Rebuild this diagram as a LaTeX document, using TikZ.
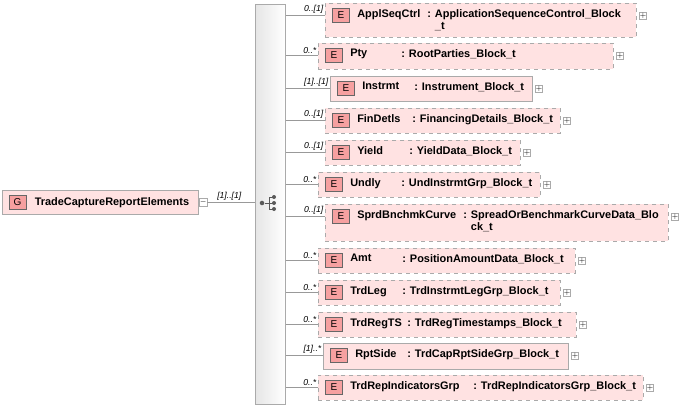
\documentclass[tikz,border=0pt]{standalone}
\usepackage{fontspec}
\setmainfont{Liberation Sans}
\usetikzlibrary{positioning}
\definecolor{boxpink}{RGB}{255,226,226}
\definecolor{badge}{RGB}{246,160,160}
\definecolor{edge}{RGB}{170,170,170}
\tikzset{
  elem/.style={draw=edge, fill=boxpink, anchor=north west, inner sep=0pt},
  badge/.style={draw=gray!80!black, fill=badge, minimum width=13pt, minimum height=10.5pt,
    inner sep=0pt, font=\fontsize{7.5}{8}\selectfont},
  lbl/.style={font=\bfseries\fontsize{8.2}{9.5}\selectfont, anchor=west, inner sep=0pt, align=left},
  mult/.style={font=\itshape\fontsize{6.5}{7}\selectfont, above left, inner sep=1pt},
  expand/.style={draw=edge, fill=white, minimum size=5.5pt, inner sep=0pt},
  conn/.style={draw=gray!80, line width=0.5pt}
}
\begin{document}
\begin{tikzpicture}[x=0.75pt, y=-0.75pt]
\useasboundingbox (0,0) rectangle (682,408);
% sequence bar
\node [draw=edge, left color=gray!20, right color=white, shading angle=90, anchor=north west,
  minimum width=22.5pt, minimum height=300pt, inner sep=0pt] (seq) at (255,4) {};
\node [fill=gray!70!black, circle, inner sep=1.2pt] (dot) at (262,203) {};
\foreach \yy in {197,203,209}
  \fill [gray!70!black] (274,\yy) circle (1.5pt);
\draw [gray!70!black, line width=0.7pt] (dot) -- (269,203) (269,197) -- (269,209)
  (269,197) -- (274,197) (269,209) -- (274,209) (269,203) -- (274,203);

% group
\node [draw=edge, fill=boxpink, anchor=north west, minimum width=147pt, minimum height=18pt,
  inner sep=0pt] (grp) at (2,190) {};
\node [badge, right=5pt of grp.west, anchor=west] (g-badge) {G};
\node [lbl, right=6pt of g-badge] (g-name) {TradeCaptureReportElements};
\node [expand, right=0.5pt of grp.east] (g-exp) {\tiny$-$};
\draw [conn] (g-exp) -- (seq.west |- g-exp) node [mult, pos=0.75] {[1]..[1]};

% elements: index/left/top/right/bottom/name/type/colon x/mult/style
\foreach \i/\l/\t/\r/\b/\nm/\ty/\tx/\m/\st in {
  1/325/3/636/37/ApplSeqCtrl/{: ApplicationSequenceControl\_Block\\\hphantom{: }\_t}/427/0..[1]/dashed,
  2/318/43/613/69/Pty/: RootParties\_Block\_t/401/0..*/dashed,
  3/330/76/532/101/Instrmt/: Instrument\_Block\_t/414/[1]..[1]/solid,
  4/325/108/560/133/FinDetls/: FinancingDetails\_Block\_t/412/0..[1]/dashed,
  5/325/140/520/165/Yield/: YieldData\_Block\_t/409/0..[1]/dashed,
  6/318/172/540/197/Undly/: UndInstrmtGrp\_Block\_t/401/0..*/dashed,
  7/325/204/668/241/SprdBnchmkCurve/{: SpreadOrBenchmarkCurveData\_Blo\\\hphantom{: }ck\_t}/463/0..[1]/dashed,
  8/318/248/575/273/Amt/: PositionAmountData\_Block\_t/402/0..*/dashed,
  9/318/280/560/305/TrdLeg/: TrdInstrmtLegGrp\_Block\_t/402/0..*/dashed,
  10/318/312/576/337/TrdRegTS/: TrdRegTimestamps\_Block\_t/407/0..*/dashed,
  11/323/343/568/369/RptSide/: TrdCapRptSideGrp\_Block\_t/407/[1]..*/solid,
  12/318/375/643/400/TrdRepIndicatorsGrp/: TrdRepIndicatorsGrp\_Block\_t/473/0..*/dashed}
{
  \node [elem, \st, minimum width={(\r-\l)*0.75pt}, minimum height={(\b-\t)*0.75pt}]
    (e-\i) at (\l,\t) {};
  \node [badge, anchor=north west] (b-\i) at (\l+7,\t+5) {E};
  \node [lbl, anchor=north west] (n-\i) at (\l+32,\t+6) {\nm};
  \node [lbl, anchor=north west] (t-\i) at (\tx,\t+6) {\ty};
  \node [expand] (x-\i) at (\r+7,\t+13) {\tiny$+$};
  \draw [conn] (seq.east |- b-\i) -- (e-\i.west |- b-\i) node [mult] {\m};
}
\end{tikzpicture}
\end{document}
